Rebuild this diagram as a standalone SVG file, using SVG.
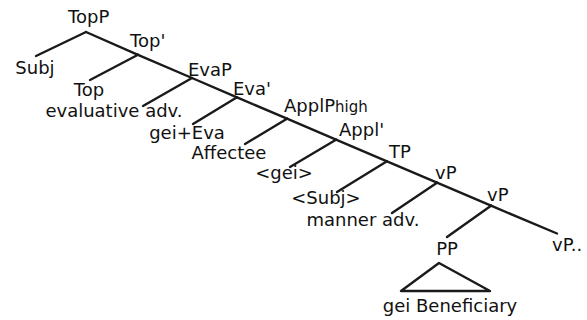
<svg xmlns="http://www.w3.org/2000/svg" width="587" height="320" viewBox="0 0 587 320">
<style>
  .e { stroke: #1a1a1a; stroke-width: 2.4; fill: none; stroke-linecap: round; stroke-linejoin: round; }
  text { font-family: "DejaVu Sans", "Liberation Sans", sans-serif; font-size: 18px; fill: #111; }
  .m { text-anchor: middle; }
  .sub { font-size: 15px; }
</style>
<rect width="587" height="320" fill="#fff"/>
<g id="connectors">
  <line class="e" x1="86" y1="32" x2="138" y2="54.8"/>
  <line class="e" x1="86" y1="32" x2="36" y2="56"/>
  <line class="e" x1="138" y1="54.8" x2="192" y2="78"/>
  <line class="e" x1="138" y1="54.8" x2="90" y2="80"/>
  <line class="e" x1="192" y1="78" x2="237" y2="97.3"/>
  <line class="e" x1="192" y1="78" x2="143" y2="106"/>
  <line class="e" x1="237" y1="97.3" x2="287" y2="118.7"/>
  <line class="e" x1="237" y1="97.3" x2="193" y2="124"/>
  <line class="e" x1="287" y1="118.7" x2="336" y2="139.7"/>
  <line class="e" x1="287" y1="118.7" x2="245" y2="144"/>
  <line class="e" x1="336" y1="139.7" x2="387" y2="161.3"/>
  <line class="e" x1="336" y1="139.7" x2="290" y2="167"/>
  <line class="e" x1="387" y1="161.3" x2="437" y2="182.7"/>
  <line class="e" x1="387" y1="161.3" x2="337" y2="192"/>
  <line class="e" x1="437" y1="182.7" x2="491" y2="205.7"/>
  <line class="e" x1="437" y1="182.7" x2="392" y2="213"/>
  <line class="e" x1="491" y1="205.7" x2="557" y2="233.5"/>
  <line class="e" x1="491" y1="205.7" x2="447" y2="237"/>
</g>
<g id="TopP"><text x="68" y="23">TopP</text></g>
<g id="Subj"><text class="m" x="35" y="74">Subj</text></g>
<g id="TopBar"><text x="130" y="47">Top'</text></g>
<g id="Top"><text class="m" x="89" y="96">Top</text></g>
<g id="EvaP"><text x="188" y="76">EvaP</text></g>
<g id="EvaluativeAdv"><text class="m" x="114" y="117">evaluative adv.</text></g>
<g id="EvaBar"><text x="233" y="95">Eva'</text></g>
<g id="GeiEva"><text class="m" x="187" y="139">gei+Eva</text></g>
<g id="ApplPhigh"><text x="284" y="112">ApplP<tspan class="sub">high</tspan></text></g>
<g id="Affectee"><text class="m" x="229" y="159">Affectee</text></g>
<g id="ApplBar"><text x="339" y="136">Appl'</text></g>
<g id="GeiTrace"><text class="m" x="284" y="179">&lt;gei&gt;</text></g>
<g id="TP"><text x="389" y="158">TP</text></g>
<g id="SubjTrace"><text class="m" x="326" y="204">&lt;Subj&gt;</text></g>
<g id="vP1"><text x="435" y="179">vP</text></g>
<g id="MannerAdv"><text class="m" x="363" y="226">manner adv.</text></g>
<g id="vP2"><text x="487" y="201">vP</text></g>
<g id="PP">
  <text class="m" x="447" y="255">PP</text>
  <path class="e" d="M439,263 L401,291 L490,291 Z"/>
  <text class="m" x="450" y="312">gei Beneficiary</text>
</g>
<g id="vP3"><text x="552" y="251">vP..</text></g>
</svg>
